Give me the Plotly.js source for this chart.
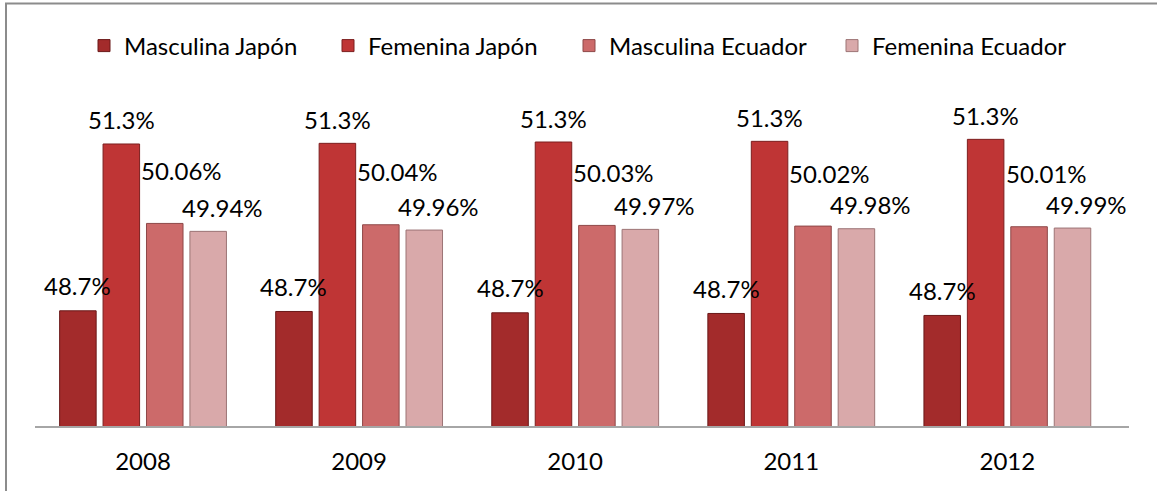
<!DOCTYPE html>
<html><head><meta charset="utf-8">
<script src="https://cdn.plot.ly/plotly-3.0.1.min.js"></script>
<style>html,body{margin:0;padding:0;background:#fff;} #chart{width:1157px;height:491px;}</style>
</head><body><div id="chart"></div>
<script>
// ---- data ----
const years = ['2008', '2009', '2010', '2011', '2012'];
const seriesNames = ['Masculina Japón', 'Femenina Japón', 'Masculina Ecuador', 'Femenina Ecuador'];
const masculinaJapon = [48.74, 48.73, 48.71, 48.70, 48.67];
const femeninaJapon = [51.26, 51.27, 51.29, 51.30, 51.33];
const masculinaEcuador = [50.06, 50.04, 50.03, 50.02, 50.01];
const femeninaEcuador = [49.94, 49.96, 49.97, 49.98, 49.99];
const labelDecimals = [1, 1, 2, 2];

// ---- styles ----
const FONT = 'Lato, "Open Sans", sans-serif';
const fillColors = ['#A32B2B', '#BF3535', '#CC6A6A', '#D9A9AA'];
const lineColors = ['#6A1818', '#7C1F1F', '#8E4848', '#9C7475'];
const labelXShift = [0, 0, 17, 14];
const labelYShift = [25, 24, 53, 24];
const legendWidths = [199, 196, 218, 200];
const BARGAP = 0.196, BARGROUPGAP = 0.159;
const M = {l: 35, r: 28, t: 95, b: 65};
const W = 1157, H = 491;

const allSeries = [masculinaJapon, femeninaJapon, masculinaEcuador, femeninaEcuador];

const traces = allSeries.map((vals, s) => ({
  type: 'bar',
  name: seriesNames[s],
  x: years,
  y: vals,
  marker: {color: fillColors[s], line: {color: lineColors[s], width: 1}},
  legendwidth: legendWidths[s],
  hoverinfo: 'name+y'
}));

const slot = (1 - BARGAP) / allSeries.length;
const annotations = [];
allSeries.forEach((vals, s) => {
  vals.forEach((v, i) => {
    annotations.push({
      xref: 'x', yref: 'y',
      x: i + (s - (allSeries.length - 1) / 2) * slot,
      y: v,
      text: v.toFixed(labelDecimals[s]) + '%',
      showarrow: false,
      xanchor: 'center', yanchor: 'middle',
      xshift: labelXShift[s], yshift: labelYShift[s],
      font: {family: FONT, size: 24, color: '#000'}
    });
  });
});

const plotW = W - M.l - M.r, plotH = H - M.t - M.b;
const shapes = [{
  type: 'rect', xref: 'paper', yref: 'paper', layer: 'below',
  x0: (6 - M.l) / plotW, x1: (W + 10 - M.l) / plotW,
  y0: (H - M.b - (H + 10)) / plotH, y1: (H - M.b - 3.5) / plotH,
  line: {color: '#8C8C8C', width: 2}, fillcolor: 'rgba(0,0,0,0)'
}];

const layout = {
  width: W, height: H,
  margin: {l: M.l, r: M.r, t: M.t, b: M.b, pad: 0},
  paper_bgcolor: '#fff', plot_bgcolor: '#fff',
  barmode: 'group', bargap: BARGAP, bargroupgap: BARGROUPGAP,
  font: {family: FONT, color: '#000'},
  xaxis: {
    type: 'category', showline: true, linecolor: '#A6A6A6', linewidth: 1.5,
    ticks: '', showgrid: false, zeroline: false,
    tickfont: {family: FONT, size: 24, color: '#000'},
    ticklabelstandoff: 14
  },
  yaxis: {range: [47, 52], visible: false, showgrid: false, zeroline: false},
  showlegend: true,
  legend: {
    orientation: 'h', xref: 'container', yref: 'container',
    x: 84 / W, xanchor: 'left', y: 1 - 46 / H, yanchor: 'middle',
    font: {family: FONT, size: 24, color: '#000'},
    bgcolor: 'rgba(0,0,0,0)', traceorder: 'normal'
  },
  annotations: annotations,
  shapes: shapes
};

Plotly.newPlot('chart', traces, layout, {displayModeBar: false, staticPlot: true});
</script>
</body></html>
